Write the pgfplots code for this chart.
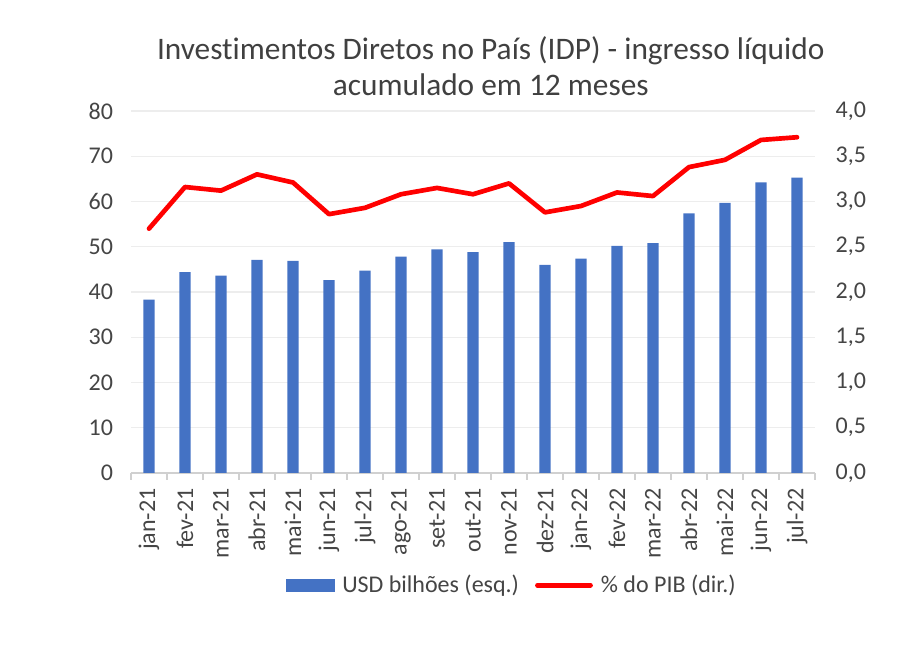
\documentclass[border=0pt]{standalone}
\usepackage{pgfplots}
\pgfplotsset{compat=1.18}
\usepackage{fontspec}
\setmainfont{Carlito}[Ligatures=NoCommon]

\definecolor{barblue}{HTML}{4472C4}
\definecolor{linered}{HTML}{FF0000}
\definecolor{ticktext}{HTML}{454545}
\definecolor{titletext}{HTML}{404040}
\definecolor{gridgray}{HTML}{EDEDED}
\definecolor{axisgray}{HTML}{D0D0D0}

% Monthly net inflow of direct investment, 12-month cumulative
\pgfplotstableread{
idx usd pib
0  38.3 2.70
1  44.4 3.16
2  43.6 3.12
3  47.1 3.30
4  46.9 3.21
5  42.6 2.86
6  44.7 2.93
7  47.8 3.08
8  49.4 3.15
9  48.8 3.08
10 51.0 3.20
11 46.0 2.88
12 47.4 2.95
13 50.2 3.10
14 50.8 3.06
15 57.4 3.38
16 59.7 3.46
17 64.2 3.68
18 65.3 3.71
}\idpdata

\begin{document}
\begin{tikzpicture}[x=1pt,y=1pt]
\pgfplotsset{
  common/.style={
    scale only axis,
    width=513pt, height=271.5pt,
    at={(0,0)}, anchor=south west,
    xmin=-0.5, xmax=18.5,
    /pgf/number format/assume math mode=true,
    tick label style={font=\fontsize{18}{21}\selectfont, text=ticktext},
  },
}
\begin{axis}[
  common,
  ymin=0, ymax=80, ytick={0,10,...,80},
  axis y line*=left,
  axis x line*=bottom,
  y axis line style={draw=none},
  x axis line style={draw=axisgray, line width=0.8pt},
  ymajorgrids, grid style={gridgray, line width=0.8pt},
  major y tick style={draw=none},
  yticklabel style={xshift=-10pt},
  xtick={0,...,18},
  xticklabels={jan-21,fev-21,mar-21,abr-21,mai-21,jun-21,jul-21,ago-21,set-21,out-21,nov-21,dez-21,jan-22,fev-22,mar-22,abr-22,mai-22,jun-22,jul-22},
  xticklabel style={rotate=90, anchor=east, xshift=-8pt},
  major x tick style={draw=none},
  extra x ticks={-0.5,0.5,...,18.5},
  extra x tick labels={},
  extra x tick style={tick align=outside, major tick length=5pt, grid=none,
                      major x tick style={draw=axisgray, line width=0.8pt}},
  /pgf/number format/.cd, fixed, precision=0,
]
\addplot[ybar, bar width=8.5pt, fill=barblue, draw=none] table[x=idx, y=usd] {\idpdata};
\end{axis}

\begin{axis}[
  common,
  ymin=0, ymax=4, ytick={0,0.5,...,4},
  axis y line*=right,
  axis x line=none,
  y axis line style={draw=none},
  major y tick style={draw=none},
  yticklabel style={xshift=12pt},
  /pgf/number format/.cd, fixed, fixed zerofill, precision=1, use comma,
  /pgfplots/.cd,
  title={Investimentos Diretos no País (IDP) - ingresso líquido\\acumulado em 12 meses},
  title style={at={(0.526,1)}, anchor=south, yshift=2pt, align=center,
               font=\fontsize{23.5}{27}\selectfont, text=titletext},
  legend style={at={(0.557,-0.31)}, anchor=center, draw=none,
                legend columns=2, font=\fontsize{18}{21}\selectfont, text=ticktext,
                /tikz/every odd column/.append style={column sep=4pt},
                /tikz/every even column/.append style={column sep=10pt}},
  legend image code/.code={},
]
\addlegendimage{legend image code/.code={\fill[barblue] (-0.2cm,-4.5pt) rectangle (1.07cm,4.5pt);}}
\addlegendentry{USD bilhões (esq.)}
\addplot[linered, line width=3.5pt, line join=round, line cap=round,
         legend image code/.code={\draw[linered, line width=3.5pt] (-0.3cm,0cm) -- (1.1cm,0cm);}]
  table[x=idx, y=pib] {\idpdata};
\addlegendentry{\% do PIB (dir.)}
\end{axis}

\path[use as bounding box] (-98.25pt,-129pt) rectangle (585pt,354.75pt);
\end{tikzpicture}
\end{document}
